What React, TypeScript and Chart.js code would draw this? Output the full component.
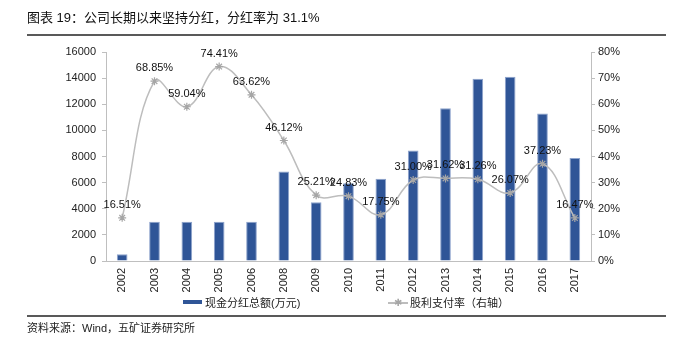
import React, { useEffect, useRef } from "react";
import { Chart, registerables } from "chart.js";

Chart.register(...registerables);

const years = ["2002", "2003", "2004", "2005", "2006", "2008", "2009", "2010", "2011", "2012", "2013", "2014", "2015", "2016", "2017"];
const cashDividend = [520, 3000, 3000, 3000, 3000, 6850, 4500, 5950, 6300, 8450, 11700, 13950, 14100, 11300, 7880];
const payoutRatio = [16.51, 68.85, 59.04, 74.41, 63.62, 46.12, 25.21, 24.83, 17.75, 31.0, 31.62, 31.26, 26.07, 37.23, 16.47];
const payoutLabels = ["16.51%", "68.85%", "59.04%", "74.41%", "63.62%", "46.12%", "25.21%", "24.83%", "17.75%", "31.00%", "31.62%", "31.26%", "26.07%", "37.23%", "16.47%"];
const leftTicks = [0, 2000, 4000, 6000, 8000, 10000, 12000, 14000, 16000];
const rightTicks = [0, 10, 20, 30, 40, 50, 60, 70, 80];

const LATIN = '"Liberation Sans", Arial, "Noto Sans CJK SC", sans-serif';
const CJK = '"Liberation Sans", "Noto Sans CJK SC", sans-serif';

const labelPlugin = {
  id: "pointLabels",
  afterDatasetsDraw(chart: any) {
    const meta = chart.getDatasetMeta(1);
    const ctx = chart.ctx;
    ctx.save();
    ctx.font = "11px " + LATIN;
    ctx.fillStyle = "#111";
    ctx.textAlign = "center";
    ctx.textBaseline = "middle";
    meta.data.forEach((pt: any, i: number) => {
      ctx.fillText(payoutLabels[i], pt.x, pt.y - 13);
    });
    ctx.restore();
  },
};

export default function App() {
  const ref = useRef<HTMLCanvasElement>(null);
  useEffect(() => {
    if (!ref.current) return;
    const chart = new Chart(ref.current, {
      type: "bar",
      data: {
        labels: years,
        datasets: [
          {
            type: "bar",
            label: "现金分红总额(万元)",
            data: cashDividend,
            backgroundColor: "#2f5597",
            borderColor: "#8da3cc",
            borderWidth: 1,
            barPercentage: 0.33,
            categoryPercentage: 1,
            yAxisID: "y",
            order: 2,
          },
          {
            type: "line",
            label: "股利支付率（右轴）",
            data: payoutRatio,
            borderColor: "#bdbdbd",
            borderWidth: 1.5,
            tension: 0.4,
            pointStyle: "star",
            pointRadius: 4,
            pointBorderColor: "#a6a6a6",
            pointBackgroundColor: "#a6a6a6",
            pointBorderWidth: 1.2,
            yAxisID: "y1",
            order: 1,
          } as any,
        ],
      },
      options: {
        animation: false,
        responsive: false,
        layout: { padding: { top: 52, left: 0, right: 0, bottom: 0 } },
        plugins: { legend: { display: false }, tooltip: { enabled: false } },
        scales: {
          x: {
            offset: true,
            grid: { display: false, drawTicks: false },
            border: { display: true, color: "#bfbfbf" },
            ticks: {
              minRotation: 90,
              maxRotation: 90,
              padding: 7,
              color: "#222",
              font: { size: 11, family: LATIN },
            },
            afterFit: (s: any) => {
              s.height = 86;
            },
          },
          y: {
            position: "left",
            min: 0,
            max: 16000,
            afterBuildTicks: (s: any) => {
              s.ticks = leftTicks.map((v) => ({ value: v }));
            },
            grid: { drawOnChartArea: false, drawTicks: true, tickLength: 4, color: "#bfbfbf" },
            border: { color: "#bfbfbf" },
            ticks: {
              padding: 6,
              color: "#222",
              font: { size: 11, family: LATIN },
              callback: (v: any) => String(v),
            },
            afterFit: (s: any) => {
              s.width = 106;
            },
          },
          y1: {
            position: "right",
            min: 0,
            max: 80,
            afterBuildTicks: (s: any) => {
              s.ticks = rightTicks.map((v) => ({ value: v }));
            },
            grid: { drawOnChartArea: false, drawTicks: true, tickLength: 4, color: "#bfbfbf" },
            border: { color: "#bfbfbf" },
            ticks: {
              padding: 3,
              color: "#222",
              font: { size: 11, family: LATIN },
              callback: (v: any) => v + "%",
            },
            afterFit: (s: any) => {
              s.width = 85;
            },
          },
        },
      } as any,
      plugins: [labelPlugin],
    });
    return () => chart.destroy();
  }, []);

  return (
    <div style={{ position: "absolute", left: 0, top: 0, width: 676, height: 347, background: "#fff", overflow: "hidden" }}>
      <canvas ref={ref} width={676} height={347} style={{ position: "absolute", left: 0, top: 0, width: 676, height: 347 }} />
      <div style={{ position: "absolute", left: 27, top: 9, fontFamily: CJK, fontSize: 13, lineHeight: "18px", color: "#111", whiteSpace: "nowrap" }}>
        图表 19：公司长期以来坚持分红，分红率为 31.1%
      </div>
      <div style={{ position: "absolute", left: 27, top: 34, width: 639, height: 2, background: "#595959" }} />
      <div style={{ position: "absolute", left: 183, top: 300, width: 19, height: 4, background: "#2f5597" }} />
      <div style={{ position: "absolute", left: 205, top: 295, fontFamily: CJK, fontSize: 11, lineHeight: "16px", color: "#222", whiteSpace: "nowrap" }}>
        现金分红总额(万元)
      </div>
      <div style={{ position: "absolute", left: 388, top: 302, width: 20, height: 1.5, background: "#bdbdbd" }} />
      <div style={{ position: "absolute", left: 393, top: 295, width: 10, fontSize: 10, lineHeight: "16px", color: "#a6a6a6", textAlign: "center", fontFamily: LATIN }}>
        ✱
      </div>
      <div style={{ position: "absolute", left: 410, top: 295, fontFamily: CJK, fontSize: 11, lineHeight: "16px", color: "#222", whiteSpace: "nowrap" }}>
        股利支付率（右轴）
      </div>
      <div style={{ position: "absolute", left: 27, top: 315, width: 639, height: 2, background: "#595959" }} />
      <div style={{ position: "absolute", left: 27, top: 320, fontFamily: CJK, fontSize: 11, lineHeight: "16px", color: "#222", whiteSpace: "nowrap" }}>
        资料来源：Wind，五矿证券研究所
      </div>
    </div>
  );
}
